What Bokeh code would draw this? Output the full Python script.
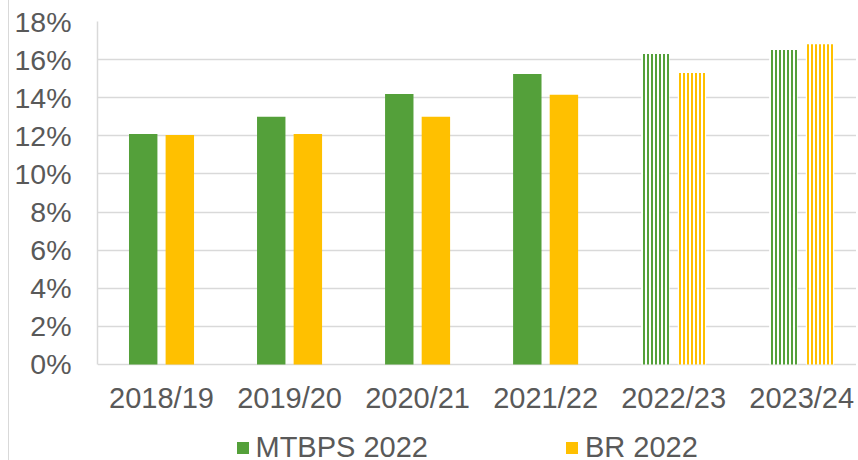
from bokeh.plotting import figure
from bokeh.models import (ColumnDataSource, Range1d, FixedTicker, PrintfTickFormatter,
                          Legend, LegendItem)
from bokeh.core.properties import value
from bokeh.embed import file_html
from bokeh.resources import INLINE

# ---- data ----
years = ["2018/19", "2019/20", "2020/21", "2021/22", "2022/23", "2023/24"]
mtbps_2022 = [12.1, 13.0, 14.2, 15.25, 16.3, 16.5]
br_2022 = [12.05, 12.1, 13.0, 14.15, 15.3, 16.8]
is_estimate = [False, False, False, False, True, True]
y_ticks = [0, 2, 4, 6, 8, 10, 12, 14, 16, 18]

GREEN = "#54A03A"
YELLOW = "#FFC000"
GRID = "#d9d9d9"
TEXT = "#595959"
FONT = "Liberation Sans"

x_pos = [i + 0.5 for i in range(len(years))]
off = 0.143
bw = 0.222

def src(vals, sign, est):
    xs = [x + sign * off for x, e in zip(x_pos, is_estimate) if e == est]
    ys = [v for v, e in zip(vals, is_estimate) if e == est]
    return ColumnDataSource(dict(x=xs, top=ys))

p = figure(width=848, height=460, output_backend="svg", toolbar_location=None,
           x_range=Range1d(0, 5.936), y_range=Range1d(-5.038, 18),
           x_axis_location=None,
           min_border_left=88, min_border_right=0, min_border_top=21, min_border_bottom=0)
p.outline_line_color = None
p.background_fill_color = "white"
p.border_fill_color = "white"
p.styles = {"margin-left": "8px", "border-left": "1.5px solid #d9d9d9"}

r_g = p.vbar(x="x", top="top", width=bw, source=src(mtbps_2022, -1, False),
             fill_color=GREEN, line_color=None)
r_y = p.vbar(x="x", top="top", width=bw, source=src(br_2022, 1, False),
             fill_color=YELLOW, line_color=None)
p.vbar(x="x", top="top", width=bw, source=src(mtbps_2022, -1, True),
       fill_color="white", line_color=None, hatch_pattern="vertical_line",
       hatch_color=GREEN, hatch_weight=2, hatch_scale=4)
p.vbar(x="x", top="top", width=bw, source=src(br_2022, 1, True),
       fill_color="white", line_color=None, hatch_pattern="vertical_line",
       hatch_color=YELLOW, hatch_weight=2, hatch_scale=4)

# category labels (x axis)
p.text(x=x_pos, y=[0] * len(years), text=years, text_align="center",
       text_baseline="middle", y_offset=33.5,
       text_font=value(FONT), text_font_size=value("29px"), text_color=TEXT)

# y axis
p.yaxis.ticker = FixedTicker(ticks=y_ticks)
p.yaxis.formatter = PrintfTickFormatter(format="%d%%")
p.yaxis.bounds = (0, 18)
p.yaxis.axis_line_color = GRID
p.yaxis.axis_line_width = 1.5
p.yaxis.major_tick_line_color = None
p.yaxis.minor_tick_line_color = None
p.yaxis.major_tick_out = 0
p.yaxis.major_tick_in = 0
p.yaxis.minor_tick_out = 0
p.yaxis.minor_tick_in = 0
p.yaxis.major_label_text_font = FONT
p.yaxis.major_label_text_color = TEXT
p.yaxis.major_label_text_font_size = "28.5px"
p.yaxis.major_label_standoff = 26

p.xgrid.grid_line_color = None
p.ygrid.grid_line_color = GRID
p.ygrid.grid_line_width = 1.5

legend = Legend(items=[LegendItem(label="MTBPS 2022", renderers=[r_g]),
                       LegendItem(label="BR 2022", renderers=[r_y])],
                orientation="horizontal", location=(137.5, -4),
                glyph_width=15, glyph_height=15, label_standoff=6, spacing=136,
                padding=0, margin=0, border_line_color=None,
                background_fill_alpha=0,
                label_text_font=FONT, label_text_font_size="29px",
                label_text_color=TEXT)
p.add_layout(legend, "center")

open("out.html", "w").write(file_html(p, INLINE))
